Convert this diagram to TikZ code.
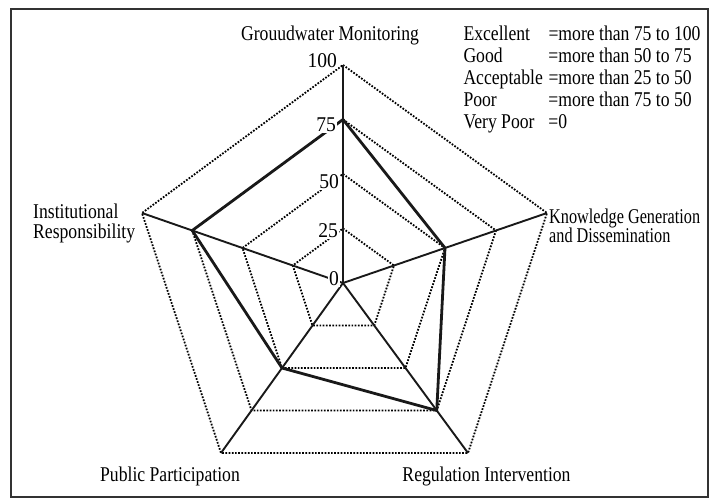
\documentclass[tikz,border=0pt]{standalone}
\usepackage{fontspec}
\setmainfont{Liberation Serif}[FakeStretch=0.84]
\newfontfamily\numfont{Liberation Serif}[FakeStretch=0.93]
\usetikzlibrary{calc}

\begin{document}
\begin{tikzpicture}[x=1pt,y=-1pt,
  frame/.style={line width=2pt, black!80},
  ring/.style={line width=1.8pt, dash pattern=on 1.7pt off 1.5pt, black},
  spoke/.style={line width=1.9pt, black!90},
  datum/.style={line width=2.8pt, black!90, line join=miter},
  numlabel/.style={fill=white, inner sep=1pt, anchor=east, font=\numfont\fontsize{21}{21}\selectfont},
  txt/.style={inner sep=0pt, font=\fontsize{21}{22}\selectfont},
  axislabel/.style={txt, anchor=base west},
  legendrow/.style={txt, anchor=base west}]
\useasboundingbox (0,0) rectangle (710,499);
\draw[frame] (11,9) rectangle (708,497);

% centre and the ends of the five axes
\coordinate (C) at (343,283);
\coordinate (A1) at (343,65);
\coordinate (A2) at (547,213);
\coordinate (A3) at (468,453);
\coordinate (A4) at (221,453);
\coordinate (A5) at (142,213);

% dotted rings at 25, 50, 75 and 100
\foreach \l in {0.25,0.5,0.75,1} {
  \draw[ring] ($(C)!\l!(A1)$) -- ($(C)!\l!(A2)$) -- ($(C)!\l!(A3)$)
    -- ($(C)!\l!(A4)$) -- ($(C)!\l!(A5)$) -- cycle;
}

% axes
\foreach \i in {1,...,5} { \draw[spoke] (C) -- (A\i); }

% scores
\coordinate (D1) at ($(C)!0.75!(A1)$);
\coordinate (D2) at ($(C)!0.50!(A2)$);
\coordinate (D3) at ($(C)!0.75!(A3)$);
\coordinate (D4) at ($(C)!0.50!(A4)$);
\coordinate (D5) at ($(C)!0.75!(A5)$);
\draw[datum] (D1) -- (D2) -- (D3) -- (D4) -- (D5) -- cycle;

% scale
\node[numlabel] (n100) at (338,61) {100};
\node[numlabel] (n75) at (337,125) {75};
\node[numlabel] (n50) at (340,182) {50};
\node[numlabel] (n25) at (339,231) {25};
\node[numlabel] (n0) at (340,279) {0};

% axis names
\node[txt, anchor=base] (gm) at (330,40.7) {Grouudwater Monitoring};
\node[axislabel] (kg1) at (549,223) {\scalebox{0.92}[1]{Knowledge Generation}};
\node[axislabel] (kg2) at (549,242) {\scalebox{0.92}[1]{and Dissemination}};
\node[axislabel] (ir1) at (33,218) {Institutional};
\node[axislabel] (ir2) at (33,238) {Responsibility};
\node[txt, anchor=base] (pp) at (170,481) {Public Participation};
\node[txt, anchor=base] (ri) at (486.5,481) {Regulation Intervention};

% legend
\node[legendrow] (l1) at (463.3,40.7) {\makebox[85pt][l]{Excellent}=more than 75 to 100};
\node[legendrow] (l2) at (463.3,62.6) {\makebox[85pt][l]{Good}=more than 50 to 75};
\node[legendrow] (l3) at (463.3,84.5) {\makebox[85pt][l]{Acceptable}=more than 25 to 50};
\node[legendrow] (l4) at (463.3,106.4) {\makebox[85pt][l]{Poor}=more than 75 to 50};
\node[legendrow] (l5) at (463.3,128.3) {\makebox[85pt][l]{Very Poor}=0};
\end{tikzpicture}
\end{document}
